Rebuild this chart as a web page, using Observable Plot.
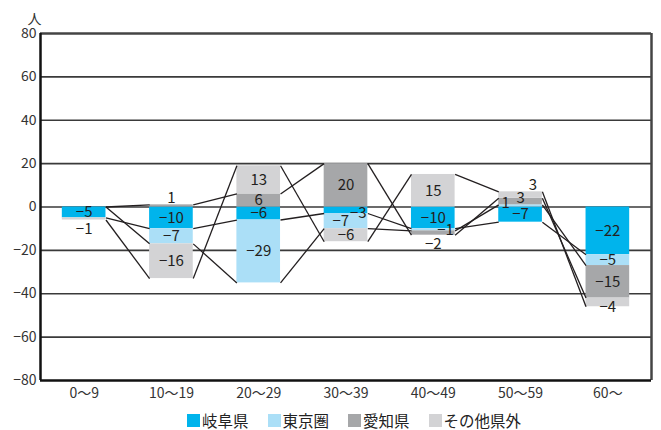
<!DOCTYPE html>
<html><head><meta charset="utf-8">
<script src="https://cdn.jsdelivr.net/npm/d3@7"></script>
<script src="https://cdn.jsdelivr.net/npm/@observablehq/plot@0.6"></script>
<style>
body{margin:0;background:#fff;font-family:"Noto Sans CJK JP","Noto Sans CJK SC",sans-serif;}
#wrap{position:relative;width:661px;height:430px;overflow:hidden;}
#legend{position:absolute;top:412px;left:187px;display:flex;align-items:center;font-size:15.5px;line-height:16px;height:16px;color:#222;white-space:nowrap;}
#legend .item{display:flex;align-items:center;margin-right:19px;}
#legend .sw{width:13px;height:13px;margin-right:2px;}
</style></head><body>
<div id="wrap"><div id="chart"></div><div id="legend"></div></div>
<script>
const categories = ["0〜9","10〜19","20〜29","30〜39","40〜49","50〜59","60〜"];
const seriesNames = ["岐阜県","東京圏","愛知県","その他県外"];
const gifu  = [-5, -10,  -6, -3, -10, -7, -22];
const tokyo = [ 0,  -7, -29, -7,  -1,  1,  -5];
const aichi = [ 0,   1,   6, 20,  -2,  3, -15];
const other = [-1, -16,  13, -6,  15,  3,  -4];
const yTicks = [-80, -60, -40, -20, 0, 20, 40, 60, 80];
const colors = ["#00b4ec", "#abdff7", "#a6a7a9", "#d3d3d5"];

const seriesValues = [gifu, tokyo, aichi, other];

// label nudges (in data units) for crowded labels
const labelNudge = [
  {cat: 0, s: 3, lx: 0, ly: -4.5},
  {cat: 1, s: 2, lx: 0, ly: 3.5},
  {cat: 3, s: 0, lx: 0.14, ly: -1.4},
  {cat: 3, s: 1, lx: -0.06, ly: 0},
  {cat: 4, s: 1, lx: 0.14, ly: 0},
  {cat: 4, s: 2, lx: 0, ly: -5},
  {cat: 5, s: 1, lx: -0.17, ly: 1.4},
  {cat: 5, s: 2, lx: 0, ly: 1.4},
  {cat: 5, s: 3, lx: 0.14, ly: 4.6},
  {cat: 6, s: 3, lx: 0, ly: -2.3}
];

const half = 0.25;
const segs = [];
const ends = seriesValues.map(() => []);
categories.forEach((c, i) => {
  let pos = 0, neg = 0;
  seriesValues.forEach((arr, s) => {
    const v = arr[i];
    let y1, y2;
    if (v >= 0) { y1 = pos; y2 = pos + v; pos = y2; }
    else { y1 = neg; y2 = neg + v; neg = y2; }
    ends[s][i] = y2;
    const n = labelNudge.find(d => d.cat === i && d.s === s);
    segs.push({i, s, v, y1, y2, color: colors[s],
      lx: i + (n ? n.lx : 0), ly: (y1 + y2) / 2 + (n ? n.ly : 0),
      label: v < 0 ? "\u2212" + (-v) : String(v)});
  });
});
const links = [];
seriesValues.forEach((arr, s) => {
  for (let i = 0; i < categories.length - 1; i++) {
    links.push({x1: i + half, x2: i + 1 - half, y1: ends[s][i], y2: ends[s][i + 1]});
  }
});

const font = '"Noto Sans CJK JP","Noto Sans CJK SC",sans-serif';
const chart = Plot.plot({
  width: 661, height: 405,
  marginLeft: 40, marginRight: 10, marginTop: 33, marginBottom: 25,
  style: {fontFamily: font, background: "#fff", color: "#333"},
  x: {type: "linear", domain: [-0.5, categories.length - 0.5], axis: null},
  y: {domain: [-80, 80], axis: null},
  marks: [
    Plot.ruleY(yTicks.filter(t => t > -80 && t < 80), {stroke: "#3a3a3a", strokeWidth: 1.6}),
    Plot.rectY(segs.filter(d => d.v !== 0), {x1: d => d.i - half, x2: d => d.i + half, y1: "y1", y2: "y2", fill: "color"}),
    Plot.link(links, {x1: "x1", x2: "x2", y1: "y1", y2: "y2", stroke: "#231f20", strokeWidth: 1.3}),
    Plot.text(segs.filter(d => d.v !== 0), {x: "lx", y: "ly", text: "label", fontSize: 15, fill: "#231f20"}),
    Plot.ruleY([80], {stroke: "#444", strokeWidth: 2.5}),
    Plot.ruleX([categories.length - 0.5], {stroke: "#444", strokeWidth: 2.5}),
    Plot.ruleX([-0.5], {stroke: "#111", strokeWidth: 2.5}),
    Plot.ruleY([-80], {stroke: "#111", strokeWidth: 2.5}),
    Plot.axisY({ticks: yTicks, tickSize: 0, tickPadding: 4, fontSize: 14, label: null, fill: "#333"}),
    Plot.axisX({ticks: d3.range(categories.length), tickFormat: i => categories[i], tickSize: 0, tickPadding: 8, fontSize: 14, label: null, fill: "#333"}),
    Plot.text(["人"], {frameAnchor: "top-left", dx: -13, dy: -19, fontSize: 14, fill: "#333"})
  ]
});
document.getElementById("chart").appendChild(chart);

const legend = document.getElementById("legend");
seriesNames.forEach((name, s) => {
  const item = document.createElement("div");
  item.className = "item";
  const sw = document.createElement("div");
  sw.className = "sw";
  sw.style.background = colors[s];
  const t = document.createElement("span");
  t.textContent = name;
  item.appendChild(sw); item.appendChild(t);
  legend.appendChild(item);
});
</script>
</body></html>
